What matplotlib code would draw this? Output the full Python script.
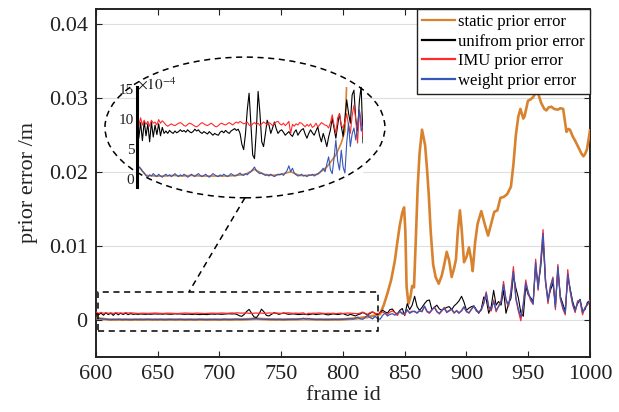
import numpy as np
import matplotlib
matplotlib.use("Agg")
import matplotlib.pyplot as plt
from matplotlib.patches import Ellipse, Rectangle

plt.rcParams['font.family'] = ['Liberation Serif', 'DejaVu Serif']
plt.rcParams['mathtext.fontset'] = 'stix'

# ---------------- data ----------------
frame_ids = list(range(600, 1001, 2))

# errors in units of 1e-4 m
unifrom_e4 = [
    9.6, 6.8, 9.4, 6.4, 9.6, 7.2, 9.2, 6.2, 9.5, 7.0,
    9.0, 7.4, 9.2, 7.2, 8.6, 7.6, 8.0, 7.6, 8.1, 7.8,
    7.6, 8.0, 7.7, 7.9, 8.2, 7.9, 8.1, 7.8, 8.2, 7.9,
    7.7, 7.9, 8.3, 8.0, 8.2, 7.8, 7.6, 7.9, 7.7, 7.5,
    7.9, 7.6, 7.3, 7.6, 7.4, 7.3, 7.8, 8.0, 7.7, 8.1,
    7.8, 7.6, 8.0, 8.2, 8.4, 8.1, 8.3, 7.6, 5.8, 4.9,
    7.5, 11.5, 14.3, 9.0, 4.0, 3.4, 8.0, 14.6, 11.0, 6.2,
    5.4, 7.5, 9.8, 9.0, 7.6, 8.5, 9.5, 8.4, 7.6, 8.0,
    8.2, 7.8, 7.3, 7.6, 7.9, 7.4, 7.1, 7.8, 8.2, 7.3,
    7.8, 8.2, 8.4, 7.5, 6.8, 7.6, 8.2, 7.7, 7.3, 8.0,
    8.7, 7.2, 6.2, 7.6, 6.6, 5.4, 7.0, 8.2, 10.1, 8.5,
    6.8, 9.0, 10.9, 8.8, 7.1, 10.0, 13.2, 11.0, 9.3, 14.0,
    14.8, 10.0, 8.0, 13.0, 15.5, 6.0, 22, 14, 20, 32,
    18, 13, 17, 22, 26, 27, 14, 17, 20, 15,
    13, 15, 17, 18, 14, 19, 22, 26, 32, 24,
    13, 16, 18, 19, 14, 9, 15, 31, 28, 9,
    18, 40, 20, 25, 20, 40, 9, 22, 29, 60,
    43, 30, 10, 5, 45, 34, 30, 25, 72, 48,
    70, 110, 50, 28, 40, 50, 20, 68, 32, 22,
    12, 58, 42, 25, 14, 22, 28, 12, 14, 24,
    26,
]

imu_e4 = [
    10.9, 8.9, 10.2, 9.0, 9.8, 9.1, 9.6, 8.8, 9.8, 9.3,
    9.5, 9.0, 9.9, 9.3, 9.7, 9.4, 9.0, 8.8, 9.0, 9.2,
    9.0, 8.9, 9.1, 9.3, 9.4, 9.2, 8.9, 8.8, 9.1, 9.3,
    9.2, 9.0, 8.8, 8.7, 8.9, 9.2, 9.4, 9.2, 9.0, 8.9,
    9.1, 9.3, 9.1, 8.8, 8.7, 8.9, 9.2, 9.3, 9.1, 9.0,
    9.2, 9.4, 9.2, 9.0, 9.3, 9.5, 9.3, 9.6, 9.4, 9.2,
    9.3, 9.5, 9.0, 8.8, 9.2, 9.4, 9.1, 9.3, 8.9, 9.2,
    9.5, 9.3, 9.0, 9.4, 9.2, 8.9, 9.3, 9.5, 9.6, 9.2,
    9.0, 9.3, 8.9, 9.2, 9.6, 7.6, 9.1, 8.8, 9.2, 9.0,
    9.4, 9.3, 9.0, 8.7, 9.1, 8.8, 9.2, 8.6, 8.8, 9.3,
    8.7, 9.0, 9.4, 9.2, 9.0, 8.9, 8.5, 9.4, 10.7, 9.0,
    7.6, 10.2, 10.9, 9.0, 8.5, 9.5, 10.9, 9.0, 7.6, 10.5,
    12.3, 10.0, 6.0, 11.5, 9.5, 7.0, 13, 10, 12, 11,
    10, 12, 12, 18, 11, 9, 13, 18, 12, 8,
    12, 17, 11, 13, 14, 9, 13, 10, 12, 17,
    12, 9, 15, 18, 13, 11, 13, 24, 38, 16,
    12, 27, 11, 19, 26, 52, 26, 18, 40, 72,
    28, 12, -1, 22, 54, 36, 26, 21, 82, 40,
    78, 122, 52, 22, 46, 58, 14, 75, 28, 15,
    7, 68, 38, 20, 10, 26, 25, 7, 17, 20,
    27,
]

weight_e4 = [
    2.6, 2.0, 1.8, 1.3, 1.0, 0.6, 0.3, 0.7, 0.5, 0.9,
    0.6, 0.4, 0.8, 0.5, 0.3, 0.6, 0.8, 0.5, 0.7, 0.4,
    0.6, 0.9, 0.6, 0.4, 0.7, 0.5, 0.8, 0.6, 0.3, 0.5,
    0.8, 0.6, 0.4, 0.7, 0.9, 0.6, 0.4, 0.6, 0.8, 0.5,
    0.3, 0.6, 0.9, 0.7, 0.5, 0.4, 0.7, 0.5, 0.8, 0.6,
    0.4, 0.6, 0.9, 0.7, 0.5, 0.6, 0.8, 1.0, 0.7, 0.6,
    0.9, 0.7, 1.0, 1.2, 1.6, 2.0, 1.4, 1.1, 0.9, 1.0,
    0.8, 0.6, 0.7, 0.5, 0.8, 0.6, 0.4, 0.6, 0.8, 0.7,
    0.9, 0.6, 1.0, 1.4, 2.2, 1.2, 1.8, 1.0, 0.7, 0.5,
    0.6, 0.8, 0.5, 0.6, 0.4, 0.7, 0.6, 0.8, 0.5, 0.7,
    0.9, 1.1, 1.4, 1.8, 1.2, 2.5, 3.7, 1.5, 0.9, 3.5,
    6.5, 3.0, 1.5, 4.8, 2.0, 1.0, 6.0, 9.3, 5.4, 7.5,
    8.5, 6.5, 9.0, 11.5, 8.0, 8.8, 14, 9, 11, 12,
    9, 13, 11, 19, 12, 10, 14, 17, 11, 9,
    13, 16, 10, 12, 15, 10, 12, 9, 13, 18,
    11, 10, 14, 19, 12, 10, 14, 22, 36, 18,
    14, 25, 13, 18, 24, 48, 28, 20, 36, 66,
    30, 15, 4, 20, 50, 38, 28, 22, 78, 42,
    74, 117, 55, 25, 45, 56, 17, 72, 30, 18,
    9, 62, 40, 22, 12, 24, 27, 10, 16, 22,
    25,
]

static_frames = [600, 610, 620, 630, 640, 650, 660, 670, 680, 690, 700, 710, 720,
                 730, 740, 750, 760, 770, 780, 790, 800, 810, 820, 826, 830, 833,
                 836, 839, 842, 844, 846, 848, 849.5, 850.5, 851.5, 853, 854.5, 856,
                 857.5, 859, 860.5, 862, 864, 866.5, 868, 869.5, 871, 873, 875,
                 877.5, 880, 882, 884, 886, 888, 890, 891.5, 893, 894.7, 896, 898,
                 900, 902, 904, 905, 907, 909, 912, 915, 917.5, 920, 922.5, 925,
                 927.5, 930, 933, 936, 938, 940, 942, 943.7, 946, 947, 949.8, 952,
                 954, 956.5, 958, 960.5, 963, 964.7, 966.5, 968.7, 971, 974, 976,
                 978.3, 980, 981, 982.5, 983.8, 986, 988, 990.7, 993, 994.7, 996,
                 997.5, 999, 1000]
static_err = [0.00024, 0.00006, 0.00005, 0.00005, 0.00006, 0.00005, 0.00006, 0.00005,
              0.00005, 0.00005, 0.00005, 0.00006, 0.00008, 0.00016, 0.00008, 0.00006,
              0.00008, 0.00012, 0.00006, 0.00006, 0.00008, 0.00020, 0.00040, 0.0006,
              0.0008, 0.0020, 0.0036, 0.0054, 0.0080, 0.0105, 0.0128, 0.0145, 0.0152,
              0.0120, 0.0045, 0.0022, 0.0030, 0.0046, 0.0044, 0.0110, 0.0180, 0.0225,
              0.0257, 0.0236, 0.0205, 0.0168, 0.0120, 0.0075, 0.0058, 0.0049, 0.0060,
              0.0075, 0.0092, 0.0080, 0.0058, 0.0070, 0.0082, 0.0120, 0.0148, 0.0125,
              0.0078, 0.0085, 0.0098, 0.0080, 0.0066, 0.0105, 0.0130, 0.0147, 0.0128,
              0.0114, 0.0130, 0.0146, 0.0148, 0.0165, 0.0166, 0.0170, 0.0180, 0.0210,
              0.0250, 0.0275, 0.0285, 0.0272, 0.0275, 0.0296, 0.0298, 0.0301, 0.0308,
              0.0306, 0.0293, 0.0285, 0.0283, 0.0287, 0.0288, 0.0285, 0.0284, 0.0286,
              0.0285, 0.0265, 0.0254, 0.0258, 0.0257, 0.0248, 0.0242, 0.0233, 0.0225,
              0.0221, 0.0224, 0.0230, 0.0245, 0.0256]

x_ticks = [600, 650, 700, 750, 800, 850, 900, 950, 1000]
x_tick_labels = ['600', '650', '700', '750', '800', '850', '900', '950', '1000']
y_ticks = [0, 0.01, 0.02, 0.03, 0.04]
y_tick_labels = ['0', '0.01', '0.02', '0.03', '0.04']
inset_ticks = [0, 5, 10, 15]
inset_tick_labels = ['0', '5', '10', '15']
labels = ['static prior error', 'unifrom prior error', 'IMU prior error', 'weight prior error']

c_static = '#D9822E'
c_unif = '#000000'
c_imu = '#FF2A2A'
c_weight = '#3656B8'

scale = 1e-4
unifrom_err = np.array(unifrom_e4) * scale
imu_err = np.array(imu_e4) * scale
weight_err = np.array(weight_e4) * scale

# ---------------- figure ----------------
fig = plt.figure(figsize=(6.19, 4.12), dpi=100)
ax = fig.add_axes([0.1551, 0.1335, 0.798, 0.8447])

ax.plot(static_frames, static_err, color=c_static, lw=1.9, label=labels[0], zorder=3)
ax.plot(frame_ids, unifrom_err, color=c_unif, lw=0.8, label=labels[1], zorder=4)
ax.plot(frame_ids, imu_err, color=c_imu, lw=0.9, label=labels[2], zorder=5)
ax.plot(frame_ids, weight_err, color=c_weight, lw=0.9, label=labels[3], zorder=6)

ax.set_xlim(600, 1000)
ax.set_ylim(-0.005, 0.042)
ax.set_xticks(x_ticks)
ax.set_xticklabels(x_tick_labels)
ax.set_yticks(y_ticks)
ax.set_yticklabels(y_tick_labels)
ax.tick_params(direction='in', length=4, width=0.8, labelsize=16, top=True, right=True,
               pad=6, colors='#222222', labelcolor='#222222')
ax.grid(axis='y', color='#dedede', lw=0.8)
ax.set_axisbelow(True)
for s in ax.spines.values():
    s.set_linewidth(1.4)
    s.set_color('#222222')
ax.set_xlabel('frame id', fontsize=16, labelpad=1, color='#222222')
ax.set_ylabel('prior error /m', fontsize=16, labelpad=8, color='#222222')

leg = ax.legend(loc='upper right', fontsize=12, frameon=True, fancybox=False,
                borderaxespad=0.0, handlelength=2.0, handletextpad=0.2,
                labelspacing=0.22, borderpad=0.3, framealpha=1)
leg.get_frame().set_edgecolor('#222222')
leg.get_frame().set_linewidth(1.0)
for h in leg.get_lines():
    h.set_linewidth(1.6)

# zoom decorations
dash = (0, (4, 3))
ax.add_patch(Rectangle((601.6, -0.00145), 826.7 - 600.0, 0.0038 + 0.00145,
                       fill=False, ls=dash, lw=1.1, ec='black', zorder=7))
ax.plot([720.6, 675.3], [0.0165, 0.0038], ls=dash, lw=1.1, color='black', zorder=7)

# inset
ai = fig.add_axes([0.2213, 0.5461, 0.3651, 0.2427])
ai.set_facecolor('white')
ai.plot(static_frames, np.array(static_err) / scale, color=c_static, lw=1.2)
ai.plot(frame_ids, unifrom_e4, color=c_unif, lw=0.8)
ai.plot(frame_ids, imu_e4, color=c_imu, lw=0.8)
ai.plot(frame_ids, weight_e4, color=c_weight, lw=0.8)
ai.set_xlim(600, 850)
ai.set_ylim(-1.33, 15.33)
ai.set_xticks([])
ai.set_yticks(inset_ticks)
ai.set_yticklabels(inset_tick_labels)
ai.tick_params(axis='y', direction='in', length=0, labelsize=11, pad=2,
               labelcolor='#222222')
for k in ['top', 'right', 'bottom']:
    ai.spines[k].set_visible(False)
ai.spines['left'].set_linewidth(2.2)
ai.text(0.0, 1.03, r'$\times10^{-4}$', transform=ai.transAxes, ha='left',
        va='center', fontsize=11, color='#222222')

# dashed ellipse drawn on top of the inset (main-axes data coordinates)
ell = Ellipse((720.6, 0.0260), 226.7, 0.0190, fill=False, ls=dash, lw=1.1,
              ec='black', transform=ax.transData, clip_on=False, zorder=10)
ai.add_patch(ell)

fig.savefig('out.png', dpi=100)
